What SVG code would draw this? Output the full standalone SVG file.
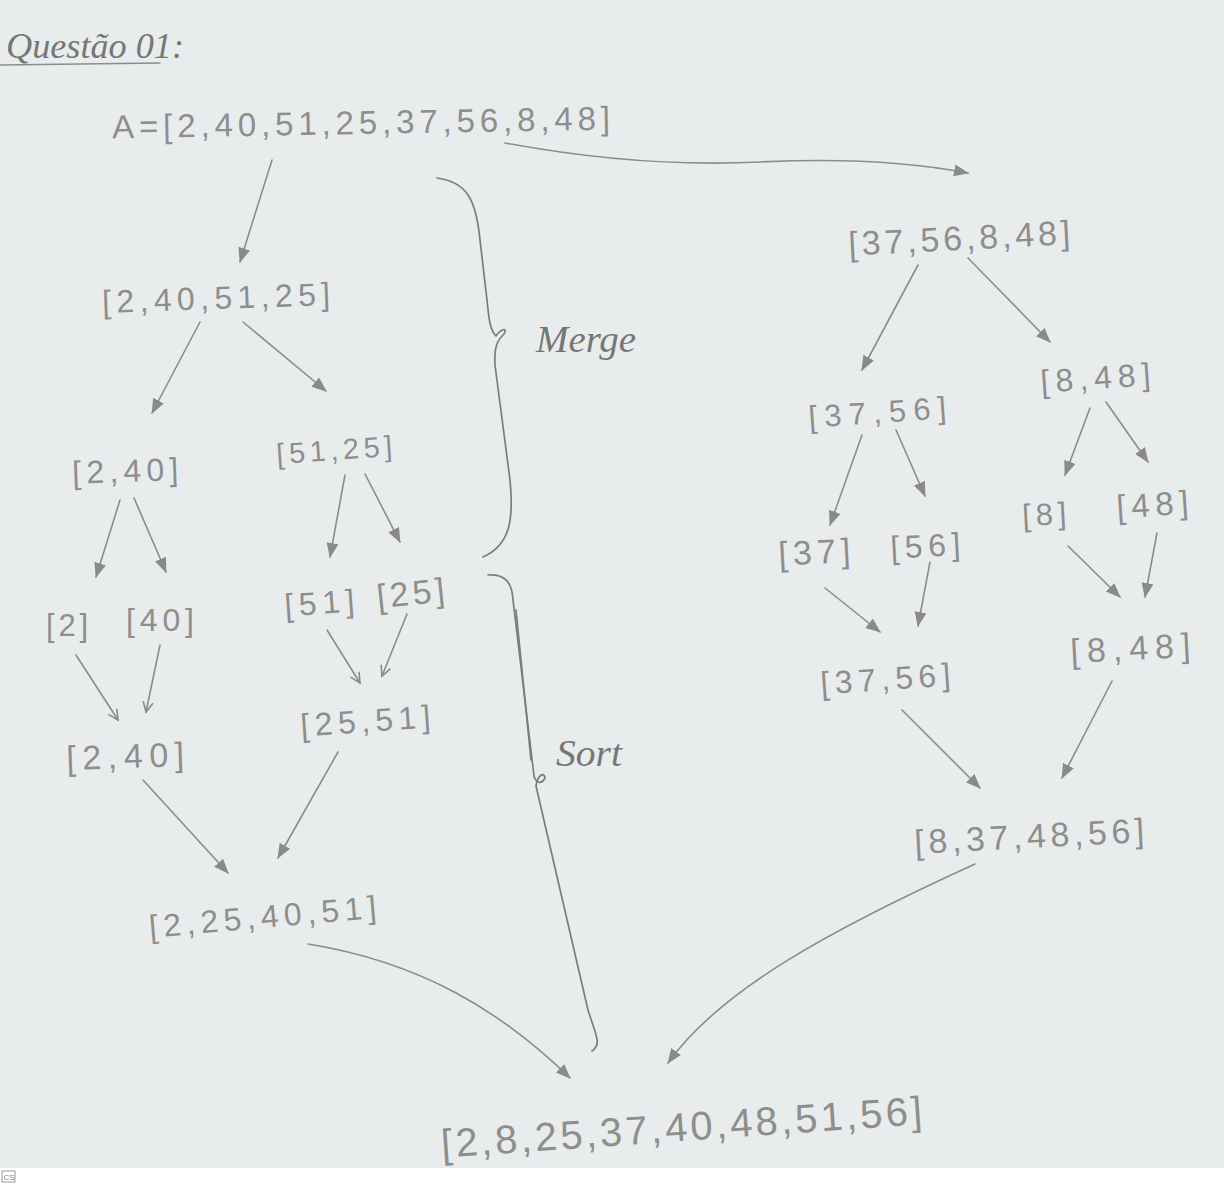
<svg xmlns="http://www.w3.org/2000/svg" width="1224" height="1186" viewBox="0 0 1224 1186">
<defs>
<style>
.n{font-family:"Liberation Sans",Arial,sans-serif;fill:#8e8e8e;lengthAdjust:spacing}
.t{font-family:"Liberation Serif","DejaVu Serif",serif;font-style:italic;fill:#767676}
.c{fill:none;stroke:#8c8c8c;stroke-width:1.6;stroke-linecap:round}
.b{fill:none;stroke:#7c7c7c;stroke-width:1.7;stroke-linecap:round;stroke-linejoin:round}
</style>
<marker id="ah" markerUnits="userSpaceOnUse" markerWidth="16" markerHeight="14" refX="14" refY="6" orient="auto">
<path d="M0,0 L15,6 L0,12 z" fill="#8a8a8a"/>
</marker>
<marker id="av" markerUnits="userSpaceOnUse" markerWidth="14" markerHeight="14" refX="11" refY="6" orient="auto">
<path d="M1,1 L11,6 L1,11" fill="none" stroke="#8a8a8a" stroke-width="1.6"/>
</marker>
</defs>
<rect x="0" y="0" width="1224" height="1186" fill="#e9ecec"/>
<rect x="0" y="1168" width="1224" height="18" fill="#ffffff"/>
<g id="cs-logo">
<rect x="2" y="1171" width="13" height="11" fill="none" stroke="#9a9a9a" stroke-width="1"/>
<text x="3.5" y="1180" font-family="Liberation Sans,sans-serif" font-size="8" fill="#8a8a8a">CS</text>
</g>

<g id="title">
<text class="t" x="6" y="58" font-size="36" textLength="178" lengthAdjust="spacingAndGlyphs">Questão 01:</text>
<path class="c" d="M0,65 L160,63" stroke-width="1.2"/>
</g>

<g id="connectors">
<path class="c" d="M272,160 L240,262" marker-end="url(#ah)"/>
<path class="c" d="M505,143 Q640,168 760,162 T968,173" marker-end="url(#ah)"/>
<path class="c" d="M200,322 L152,413" marker-end="url(#ah)"/>
<path class="c" d="M243,322 L326,391" marker-end="url(#ah)"/>
<path class="c" d="M120,500 L96,577" marker-end="url(#ah)"/>
<path class="c" d="M134,498 L166,572" marker-end="url(#ah)"/>
<path class="c" d="M345,475 L330,557" marker-end="url(#ah)"/>
<path class="c" d="M365,474 L400,542" marker-end="url(#ah)"/>
<path class="c" d="M76,655 L118,720" marker-end="url(#av)"/>
<path class="c" d="M160,645 L146,712" marker-end="url(#av)"/>
<path class="c" d="M327,630 L360,683" marker-end="url(#av)"/>
<path class="c" d="M407,614 L382,676" marker-end="url(#av)"/>
<path class="c" d="M143,780 L228,873" marker-end="url(#ah)" stroke="#7a7a7a" stroke-width="2"/>
<path class="c" d="M338,752 L278,858" marker-end="url(#ah)"/>
<path class="c" d="M308,944 C420,962 500,1010 570,1078" marker-end="url(#ah)" stroke="#7a7a7a" stroke-width="1.8"/>
<path class="c" d="M975,864 C830,930 720,990 668,1063" marker-end="url(#ah)"/>
<path class="c" d="M918,265 L862,370" marker-end="url(#ah)"/>
<path class="c" d="M968,258 L1050,342" marker-end="url(#ah)"/>
<path class="c" d="M862,435 L830,525" marker-end="url(#ah)"/>
<path class="c" d="M896,430 L925,496" marker-end="url(#ah)"/>
<path class="c" d="M1090,408 L1065,475" marker-end="url(#ah)"/>
<path class="c" d="M1106,402 L1148,462" marker-end="url(#ah)"/>
<path class="c" d="M825,588 L880,632" marker-end="url(#ah)"/>
<path class="c" d="M930,562 L918,626" marker-end="url(#ah)"/>
<path class="c" d="M1068,546 L1120,597" marker-end="url(#ah)"/>
<path class="c" d="M1157,533 L1145,597" marker-end="url(#ah)"/>
<path class="c" d="M902,710 L980,788" marker-end="url(#ah)"/>
<path class="c" d="M1112,681 L1062,778" marker-end="url(#ah)"/>
</g>

<g id="brace-merge">
<path class="b" d="M437,178 C466,182 476,198 480,240 L487,300 C489,320 490,330 496,336 C500,330 508,326 504,334 C498,340 494,345 495,365 L510,480 C514,520 510,545 483,557"/>
<text class="t" x="536" y="352" font-size="38" textLength="100" lengthAdjust="spacingAndGlyphs">Merge</text>
</g>

<g id="brace-sort">
<path class="b" d="M488,575 C505,574 512,582 513,600 L534,776 C536,784 542,784 545,778 C544,772 538,774 536,786 L588,1010 C596,1036 602,1044 592,1051" stroke="#666666" stroke-width="2"/>
<path class="b" d="M516,610 L531,760" stroke="#8a8a8a" stroke-width="1"/>
<text class="t" x="556" y="766" font-size="38" textLength="66" lengthAdjust="spacingAndGlyphs">Sort</text>
</g>

<g id="node-A"><text class="n" x="112" y="134" font-size="33" textLength="498" transform="rotate(-1 360 118)">A=[2,40,51,25,37,56,8,48]</text></g>
<g id="node-2-40-51-25"><text class="n" x="102" y="309" font-size="32" textLength="228" transform="rotate(-2 216 295)">[2,40,51,25]</text></g>
<g id="node-37-56-8-48"><text class="n" x="848" y="250" font-size="34" textLength="222" transform="rotate(-3 959 235)">[37,56,8,48]</text></g>
<g id="node-2-40-split"><text class="n" x="72" y="482" font-size="32" textLength="106" transform="rotate(-2 125 466)">[2,40]</text></g>
<g id="node-51-25"><text class="n" x="276" y="460" font-size="29" textLength="116" transform="rotate(-4 334 446)">[51,25]</text></g>
<g id="node-8-48-split"><text class="n" x="1040" y="389" font-size="32" textLength="110" transform="rotate(-4 1095 372)">[8,48]</text></g>
<g id="node-37-56-split"><text class="n" x="808" y="423" font-size="31" textLength="138" transform="rotate(-4 877 407)">[37,56]</text></g>
<g id="node-2"><text class="n" x="46" y="636" font-size="31" textLength="42">[2]</text></g>
<g id="node-40"><text class="n" x="126" y="631" font-size="32" textLength="68">[40]</text></g>
<g id="node-51"><text class="n" x="284" y="614" font-size="32" textLength="70" transform="rotate(-4 319 598)">[51]</text></g>
<g id="node-25"><text class="n" x="376" y="605" font-size="34" textLength="68" transform="rotate(-6 410 588)">[25]</text></g>
<g id="node-37"><text class="n" x="778" y="564" font-size="34" textLength="72" transform="rotate(-3 814 547)">[37]</text></g>
<g id="node-56"><text class="n" x="890" y="557" font-size="32" textLength="70" transform="rotate(-3 925 540)">[56]</text></g>
<g id="node-8"><text class="n" x="1022" y="525" font-size="31" textLength="44" transform="rotate(-3 1044 509)">[8]</text></g>
<g id="node-48"><text class="n" x="1116" y="516" font-size="33" textLength="72" transform="rotate(-4 1152 499)">[48]</text></g>
<g id="node-2-40-merged"><text class="n" x="66" y="768" font-size="34" textLength="118" transform="rotate(-2 125 751)">[2,40]</text></g>
<g id="node-25-51"><text class="n" x="300" y="732" font-size="32" textLength="130" transform="rotate(-4 365 715)">[25,51]</text></g>
<g id="node-37-56-merged"><text class="n" x="820" y="690" font-size="32" textLength="130" transform="rotate(-4 885 673)">[37,56]</text></g>
<g id="node-8-48-merged"><text class="n" x="1070" y="660" font-size="34" textLength="120" transform="rotate(-3 1130 642)">[8,48]</text></g>
<g id="node-2-25-40-51"><text class="n" x="148" y="928" font-size="32" textLength="228" transform="rotate(-5 262 910)">[2,25,40,51]</text></g>
<g id="node-8-37-48-56"><text class="n" x="914" y="848" font-size="34" textLength="230" transform="rotate(-3 1029 830)">[8,37,48,56]</text></g>
<g id="node-final"><text class="n" x="440" y="1141" font-size="40" textLength="482" fill="#7e7e7e" transform="rotate(-4 681 1119)">[2,8,25,37,40,48,51,56]</text></g>
</svg>
